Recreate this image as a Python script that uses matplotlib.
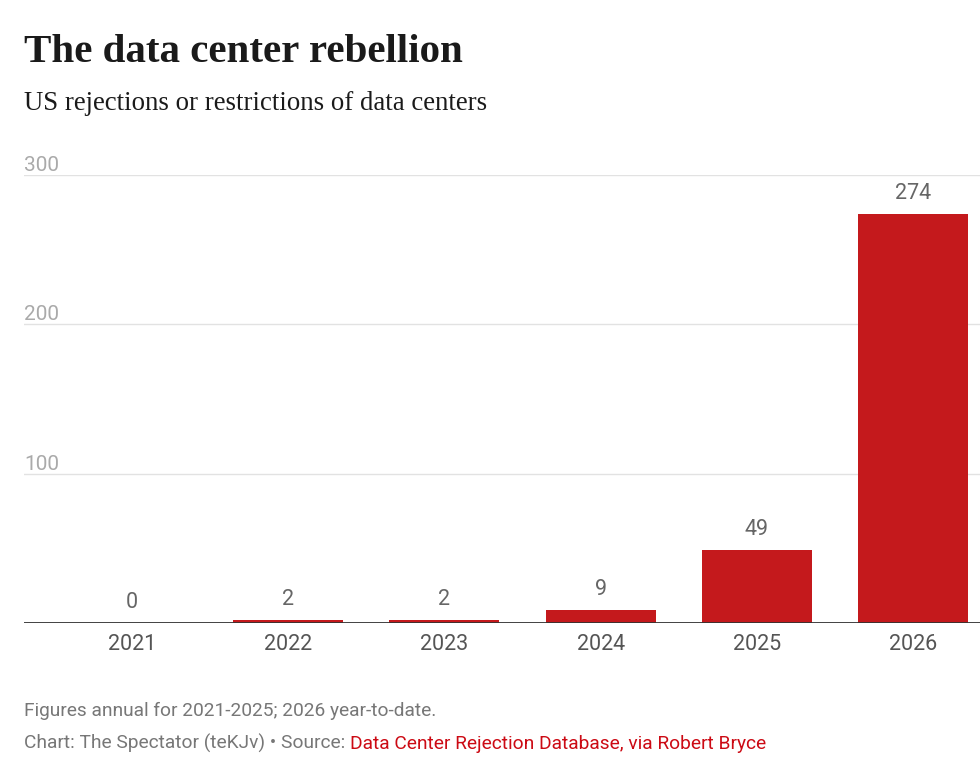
import matplotlib.pyplot as plt

years = ['2021', '2022', '2023', '2024', '2025', '2026']
counts = [0, 2, 2, 9, 49, 274]
y_ticks = [100, 200, 300]

bar_color = '#c4191c'
red_text = '#cc0a14'

fig = plt.figure(figsize=(9.8, 7.74), dpi=100)
W, H = 980, 774

# axes placed in pixel terms: left 24, right 980, top 175, bottom 623
ax = fig.add_axes([24 / W, 1 - 623 / H, (980 - 24) / W, (623 - 175) / H])

x = list(range(len(years)))
ax.bar(x, counts, width=0.705, color=bar_color, zorder=3)

for xi, v in zip(x, counts):
    ax.annotate(str(v), (xi, v), xytext=(0, 7), textcoords='offset points',
                ha='center', va='bottom', fontsize=15.5, color='#666666',
                family='Roboto')

ax.set_xlim(-108 / 156, 5 + 67 / 156)
ax.set_ylim(0, 300)

for t in y_ticks:
    ax.axhline(t, color='#e2e2e2', lw=1, zorder=1)
    ax.text(0, t, str(t), transform=ax.get_yaxis_transform(),
            ha='left', va='bottom', fontsize=15, color='#aaaaaa',
            family='Roboto')
ax.axhline(0, color='#333333', lw=1.3, zorder=4)

ax.set_xticks(x)
ax.set_xticklabels(years, family='Roboto', fontsize=15.5, color='#555555')
ax.tick_params(axis='x', length=0, pad=8)
ax.set_yticks([])
for s in ax.spines.values():
    s.set_visible(False)

fig.text(24 / W, 1 - 62 / H, 'The data center rebellion', family='Liberation Serif',
         fontweight='bold', fontsize=29.5, color='#1a1a1a', va='baseline')
fig.text(24 / W, 1 - 110 / H, 'US rejections or restrictions of data centers',
         family='Liberation Serif', fontsize=19.3, color='#1a1a1a', va='baseline')

fig.text(24 / W, 1 - 716 / H, 'Figures annual for 2021-2025; 2026 year-to-date.',
         family='Roboto', fontsize=13.8, color='#777777', va='baseline')
t1 = fig.text(24 / W, 1 - 749 / H, 'Chart: The Spectator (teKJv) \u2022 Source: ',
              family='Roboto', fontsize=13.8, color='#777777', va='baseline')
fig.canvas.draw()
bb = t1.get_window_extent()
fig.text(bb.x1 / W, 1 - 749 / H, 'Data Center Rejection Database, via Robert Bryce',
         family='Roboto', fontsize=13.8, color=red_text, va='baseline')

fig.savefig('out.png', dpi=100)
